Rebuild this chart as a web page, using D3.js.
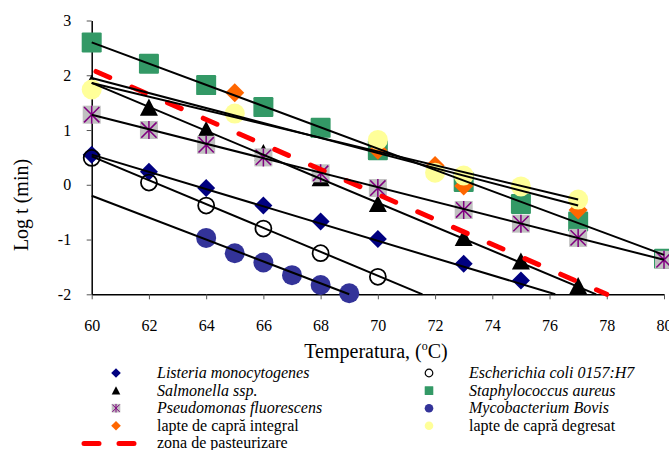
<!DOCTYPE html>
<html><head><meta charset="utf-8">
<script src="https://cdn.jsdelivr.net/npm/d3@7"></script>
<style>
body{margin:0;background:#fff}
svg{display:block}
text{font-family:"Liberation Serif","Times New Roman",serif;fill:#000}
</style>
</head><body>
<svg id="c" width="669" height="450"></svg>
<script>
// ---- data ----
const seriesNames = ["Listeria monocytogenes","Escherichia coli 0157:H7","Salmonella ssp.","Staphylococcus aureus","Pseudomonas fluorescens","Mycobacterium Bovis","lapte de capră integral","lapte de capră degresat"];
const pasteurName = "zona de pasteurizare";

const listeriaT = [60,62,64,66,68,70,73,75];
const listeriaV = [0.55,0.24,-0.06,-0.38,-0.67,-0.99,-1.44,-1.75];
const ecoliT = [60,62,64,66,68,70];
const ecoliV = [0.49,0.04,-0.38,-0.80,-1.25,-1.68];
const salmT = [60,62,64,66,68,70,73,75,77];
const salmV = [1.85,1.41,1.00,0.58,0.12,-0.35,-0.97,-1.40,-1.85];
const staphT = [60,62,64,66,68,70,73,75,77,80];
const staphV = [2.60,2.21,1.82,1.42,1.04,0.63,0.05,-0.35,-0.67,-1.35];
const pseudoT = [60,62,64,66,68,70,73,75,77,80];
const pseudoV = [1.28,1.00,0.73,0.50,0.21,-0.06,-0.46,-0.71,-0.97,-1.37];
const mycoT = [64,65,66,67,68,69];
const mycoV = [-0.97,-1.25,-1.42,-1.65,-1.83,-1.98];
const integralT = [65,70,72,73,77];
const integralV = [1.68,0.63,0.35,-0.02,-0.46];
const degresatT = [60,65,70,72,73,75,77];
const degresatV = [1.74,1.30,0.82,0.22,0.17,-0.03,-0.27];

// trend lines (start / end), same order as seriesNames
const trendStartT = [60,60,60,60,60,60,60,60];
const trendStartV = [0.55,0.52,1.86,2.60,1.28,-0.20,1.95,1.86];
const trendEndT   = [76.2,71.56,77.63,80,80,69.0,77,77];
const trendEndV   = [-2,-2,-2,-1.28,-1.37,-2,-0.38,-0.27];

// pasteurisation zone (red dashed)
const pasteurT = [60.15,78.0];
const pasteurV = [2.07,-2.0];

const xTicks = [60,62,64,66,68,70,72,74,76,78,80];
const yTicks = [-2,-1,0,1,2,3];

// ---- chart ----
const svg = d3.select("#c");
const x = d3.scaleLinear().domain([60,80]).range([91.7,664]);
const y = d3.scaleLinear().domain([-2,3]).range([294.3,20.5]);

const styles = [
  {type:"diamond", fill:"#000080", s:9},
  {type:"ocircle", fill:"none", s:8},
  {type:"triangle", fill:"#000000", s:9},
  {type:"square", fill:"#339966", s:10},
  {type:"star", fill:"#C0C0C0", s:9},
  {type:"circle", fill:"#333399", s:10},
  {type:"diamond", fill:"#FF6600", s:9.5},
  {type:"circle", fill:"#FFFF99", s:10}
];
const seriesT = [listeriaT, ecoliT, salmT, staphT, pseudoT, mycoT, integralT, degresatT];
const seriesV = [listeriaV, ecoliV, salmV, staphV, pseudoV, mycoV, integralV, degresatV];

function marker(g, st, s){
  if(st.type==="diamond"){
    g.append("path").attr("d",`M0,${-s}L${s},0L0,${s}L${-s},0Z`).attr("fill",st.fill);
  } else if(st.type==="triangle"){
    g.append("path").attr("d",`M0,${-s}L${s},${s*0.9}L${-s},${s*0.9}Z`).attr("fill",st.fill);
  } else if(st.type==="square"){
    g.append("rect").attr("x",-s).attr("y",-s).attr("width",2*s).attr("height",2*s).attr("rx",s*0.12).attr("fill",st.fill);
  } else if(st.type==="circle"){
    g.append("circle").attr("r",s).attr("fill",st.fill);
  } else if(st.type==="ocircle"){
    g.append("circle").attr("r",s).attr("fill","none").attr("stroke","#000").attr("stroke-width",Math.max(1.2,s*0.22));
  } else if(st.type==="star"){
    g.append("rect").attr("x",-s).attr("y",-s).attr("width",2*s).attr("height",2*s).attr("fill",st.fill);
    const k=s*0.85;
    g.append("path").attr("d",`M0,${-s}L0,${s}M${-k},${-k}L${k},${k}M${-k},${k}L${k},${-k}`)
      .attr("stroke","#800080").attr("stroke-width",Math.max(1,s*0.17)).attr("fill","none");
  }
}

// axes
const xAxis = d3.axisBottom(x).tickValues(xTicks).tickSize(5).tickSizeOuter(0).tickPadding(20).tickFormat(d=>String(d));
const yAxis = d3.axisLeft(y).tickValues(yTicks).tickSize(5).tickSizeOuter(0).tickPadding(15.5).tickFormat(d=>String(d));
const gx = svg.append("g").attr("transform",`translate(0,${y(-2)})`).call(xAxis);
const gy = svg.append("g").attr("transform",`translate(${x(60)},0)`).call(yAxis);
[gx,gy].forEach(g=>{
  g.select(".domain").attr("stroke","#000").attr("stroke-width",1.5);
  g.selectAll(".tick line").attr("stroke","#555").attr("stroke-width",1);
  g.selectAll(".tick text").attr("font-size",16).attr("font-family","Liberation Serif, serif").attr("fill","#000");
});

// markers
seriesT.forEach((ts,i)=>{
  const st = styles[i];
  ts.forEach((t,j)=>{
    const g = svg.append("g").attr("transform",`translate(${x(t)},${y(seriesV[i][j])})`);
    marker(g, st, st.s);
  });
});

// pasteurisation line
const line = d3.line().x(d=>x(d[0])).y(d=>y(d[1]));
svg.append("path").datum(pasteurT.map((t,i)=>[t,pasteurV[i]]))
  .attr("d",line).attr("fill","none").attr("stroke","#FF0000").attr("stroke-width",5)
  .attr("stroke-dasharray","15,24").attr("stroke-linecap","round");

// trend lines
trendStartT.forEach((t0,i)=>{
  svg.append("path").datum([[t0,trendStartV[i]],[trendEndT[i],trendEndV[i]]])
    .attr("d",line).attr("fill","none").attr("stroke","#000").attr("stroke-width",2);
});

// axis titles
const xt = svg.append("text").attr("x",376).attr("y",358).attr("text-anchor","middle").attr("font-size",20);
xt.append("tspan").text("Temperatura, (");
xt.append("tspan").attr("font-size",12).attr("dy",-8).text("o");
xt.append("tspan").attr("dy",8).text("C)");
svg.append("text").attr("transform","translate(28,205) rotate(-90)").attr("text-anchor","middle").attr("font-size",20).text("Log t (min)");

// legend
const legRows = [378,395.6,413.2,430.8,448.4];
const legMX = [116,429], legTX = [157,469];
seriesNames.forEach((nm,i)=>{
  const col = i%2, row = Math.floor(i/2);
  const st = styles[i];
  const g = svg.append("g").attr("transform",`translate(${legMX[col]},${legRows[row]-5})`);
  marker(g, st, i===1?3.8:(st.type==="diamond"?4.8:4.3));
  svg.append("text").attr("x",legTX[col]).attr("y",legRows[row]).attr("font-size",16)
    .attr("font-style", i<6?"italic":"normal").text(nm);
});
svg.append("path").attr("d",`M84,${legRows[4]-5}L99,${legRows[4]-5}M119,${legRows[4]-5}L134,${legRows[4]-5}`)
  .attr("stroke","#FF0000").attr("stroke-width",5).attr("stroke-linecap","round");
svg.append("text").attr("x",legTX[0]).attr("y",legRows[4]).attr("font-size",16).text(pasteurName);
</script>
</body></html>
